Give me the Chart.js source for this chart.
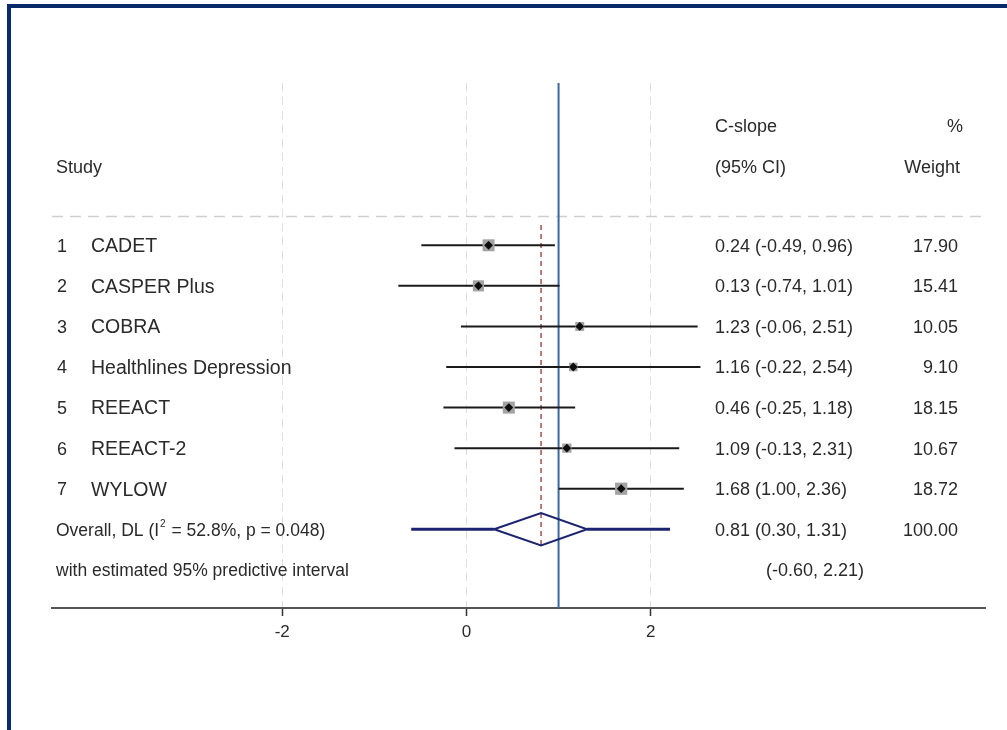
<!DOCTYPE html>
<html>
<head>
<meta charset="utf-8">
<title>C-slope forest plot</title>
<script src="https://cdn.jsdelivr.net/npm/chart.js"></script>
<style>
  body { margin: 0; background: #fff; }
  #wrap { position: relative; width: 1007px; height: 730px; }
  #frame { position: absolute; left: 7px; top: 4px; right: 0; bottom: 0;
           border-top: 4px solid #0b2a6b; border-left: 4px solid #0b2a6b; pointer-events: none; }
</style>
</head>
<body>
<div id="wrap">
  <canvas id="forest" width="1007" height="730"></canvas>
  <div id="frame"></div>
</div>

<script>
  // study level results
  const studyNo = [1, 2, 3, 4, 5, 6, 7];
  const studies = ['CADET', 'CASPER Plus', 'COBRA', 'Healthlines Depression', 'REEACT', 'REEACT-2', 'WYLOW'];
  const cslope = [0.24, 0.13, 1.23, 1.16, 0.46, 1.09, 1.68];
  const ciLow = [-0.49, -0.74, -0.06, -0.22, -0.25, -0.13, 1.00];
  const ciHigh = [0.96, 1.01, 2.51, 2.54, 1.18, 2.31, 2.36];
  const weights = [17.90, 15.41, 10.05, 9.10, 18.15, 10.67, 18.72];

  // pooled result (DerSimonian-Laird)
  const overallEst = 0.81;
  const overallCI = [0.30, 1.31];
  const predInterval = [-0.60, 2.21];
  const i2 = 52.8;
  const pHet = 0.048;
  const nullValue = 1;

  const xTicks = [-2, 0, 2];

  const overallRow = studies.length + 1;
  const predRow = studies.length + 2;
  const FONT = '"Liberation Sans", Arial, Helvetica, sans-serif';
  const fmt = v => v.toFixed(2);

  const datasets = [];

  // centre dots
  datasets.push({
    data: cslope.map((v, i) => ({x: v, y: i + 1})),
    pointStyle: 'rectRot', pointRadius: 4.4, backgroundColor: '#0d0d0d', borderWidth: 0, order: 0
  });
  // weight boxes
  datasets.push({
    data: cslope.map((v, i) => ({x: v, y: i + 1})),
    pointStyle: 'rect', pointRadius: weights.map(w => 2.0 * Math.sqrt(w)),
    backgroundColor: '#a3a3a3', borderWidth: 0, order: 1
  });
  // confidence intervals
  studies.forEach((s, i) => {
    datasets.push({
      data: [{x: ciLow[i], y: i + 1}, {x: ciHigh[i], y: i + 1}],
      showLine: true, borderColor: '#1a1a1a', borderWidth: 2, pointRadius: 0, order: 2
    });
  });
  // pooled diamond
  datasets.push({
    data: [
      {x: overallCI[0], y: overallRow}, {x: overallEst, y: overallRow - 0.4},
      {x: overallCI[1], y: overallRow}, {x: overallEst, y: overallRow + 0.4},
      {x: overallCI[0], y: overallRow}
    ],
    showLine: true, borderColor: '#1c2470', borderWidth: 2, pointRadius: 0, tension: 0, order: 1
  });
  // predictive interval whiskers
  datasets.push({
    data: [{x: predInterval[0], y: overallRow}, {x: overallCI[0], y: overallRow}],
    showLine: true, borderColor: '#1c2470', borderWidth: 3, pointRadius: 0, order: 2
  });
  datasets.push({
    data: [{x: overallCI[1], y: overallRow}, {x: predInterval[1], y: overallRow}],
    showLine: true, borderColor: '#1c2470', borderWidth: 3, pointRadius: 0, order: 2
  });
  // pooled estimate line
  datasets.push({
    data: [{x: overallEst, y: 0.5}, {x: overallEst, y: overallRow + 0.45}],
    showLine: true, borderColor: '#a4504a', borderWidth: 1.5, borderDash: [5, 4], pointRadius: 0, order: 3
  });
  // line of no effect (C-slope = 1)
  datasets.push({
    data: [{x: nullValue, y: -3}, {x: nullValue, y: 9.94}],
    showLine: true, borderColor: '#3c68a0', borderWidth: 2, pointRadius: 0, order: 3
  });
  // header separator
  datasets.push({
    data: [{x: -4.5, y: 0.29}, {x: 5.63, y: 0.29}],
    showLine: true, borderColor: '#cfcfcf', borderWidth: 1.5, borderDash: [11, 7], pointRadius: 0, order: 4
  });

  const textPlugin = {
    id: 'forestText',
    afterDraw(chart) {
      const ctx = chart.ctx;
      const y = chart.scales.y;
      ctx.save();
      ctx.fillStyle = '#2a2a2a';
      ctx.textBaseline = 'middle';
      const put = (s, x, row, size, align, dy) => {
        ctx.font = size + 'px ' + FONT;
        ctx.textAlign = align || 'left';
        ctx.fillText(s, x, y.getPixelForValue(row) + (dy || 1.5));
      };

      // headers
      put('C-slope', 715, -2, 18, 'left', 3.5);
      put('%', 963, -2, 18, 'right', 3.5);
      put('Study', 56, -1, 18, 'left', 4);
      put('(95% CI)', 715, -1, 18, 'left', 4);
      put('Weight', 960, -1, 18, 'right', 4);

      // study rows
      studies.forEach((s, i) => {
        put(String(studyNo[i]), 57, i + 1, 18);
        put(s, 91, i + 1, 19.5);
        put(fmt(cslope[i]) + ' (' + fmt(ciLow[i]) + ', ' + fmt(ciHigh[i]) + ')', 715, i + 1, 18);
        put(fmt(weights[i]), 958, i + 1, 18, 'right');
      });

      // overall row with superscript
      ctx.font = '17.5px ' + FONT;
      ctx.textAlign = 'left';
      const oy = y.getPixelForValue(overallRow) + 1.5;
      let x = 56;
      const part1 = 'Overall, DL (I';
      ctx.fillText(part1, x, oy);
      x += ctx.measureText(part1).width;
      ctx.font = '10px ' + FONT;
      ctx.fillText('2', x + 1, oy - 7);
      x += ctx.measureText('2').width + 2;
      ctx.font = '17.5px ' + FONT;
      ctx.fillText(' = ' + i2.toFixed(1) + '%, p = ' + pHet.toFixed(3) + ')', x, oy);
      put(fmt(overallEst) + ' (' + fmt(overallCI[0]) + ', ' + fmt(overallCI[1]) + ')', 715, overallRow, 18);
      put('100.00', 958, overallRow, 18, 'right');

      put('with estimated 95% predictive interval', 56, predRow, 17.5);
      put('(' + fmt(predInterval[0]) + ', ' + fmt(predInterval[1]) + ')', 864, predRow, 18, 'right');
      ctx.restore();
    }
  };

  const ctx = document.getElementById('forest').getContext('2d');
  new Chart(ctx, {
    type: 'scatter',
    data: {datasets: datasets},
    options: {
      responsive: false,
      animation: false,
      events: [],
      layout: {padding: {left: 52, right: 22, top: 83, bottom: 62}},
      plugins: {legend: {display: false}, tooltip: {enabled: false}},
      scales: {
        x: {
          type: 'linear', min: -4.5, max: 5.63,
          afterBuildTicks: scale => { scale.ticks = xTicks.map(v => ({value: v})); },
          afterFit: scale => { scale.height = 60; },
          grid: {color: '#dedede', lineWidth: 1, tickLength: 8, tickColor: '#333', tickWidth: 1.5},
          border: {display: true, color: '#555', width: 2, dash: [8, 6]},
          ticks: {color: '#2a2a2a', padding: 6, font: {family: FONT, size: 17}, callback: v => String(v)}
        },
        y: {
          type: 'linear', reverse: true, min: -3, max: 9.94, display: false
        }
      }
    },
    plugins: [textPlugin]
  });
</script>
</body>
</html>
